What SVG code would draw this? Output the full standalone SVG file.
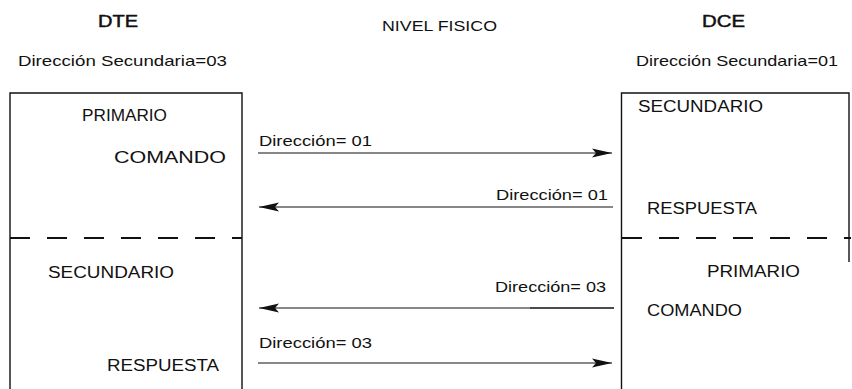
<svg xmlns="http://www.w3.org/2000/svg" width="852" height="389" viewBox="0 0 852 389">
  <style>
    text { font-family: "Liberation Sans", Arial, sans-serif; font-size: 16px; fill: #111; }
    .head { font-size: 16px; stroke: #111; stroke-width: 0.45; }
    .small { font-size: 15px; }
    .edge { stroke: #111; stroke-width: 1.4; fill: none; }
    .split { stroke: #111; stroke-width: 2; stroke-dasharray: 20 17; fill: none; }
    .msg { stroke: #111; stroke-width: 1.2; fill: none; }
  </style>
  <defs>
    <marker id="head" markerUnits="userSpaceOnUse" markerWidth="22" markerHeight="12" refX="20" refY="5" orient="auto">
      <path d="M0,0.5 L20,5 L0,9.5 L4,5 Z" fill="#111"/>
    </marker>
  </defs>
  <rect width="852" height="389" fill="#fff"/>

  <!-- column titles -->
  <g id="titles">
    <text class="head" x="98" y="27" textLength="40" lengthAdjust="spacingAndGlyphs">DTE</text>
    <text class="small" x="382" y="31" textLength="115" lengthAdjust="spacingAndGlyphs">NIVEL FISICO</text>
    <text class="head" x="702" y="27" textLength="43" lengthAdjust="spacingAndGlyphs">DCE</text>
    <text class="small" x="18" y="66" textLength="209" lengthAdjust="spacingAndGlyphs">Dirección Secundaria=03</text>
    <text class="small" x="636" y="66" textLength="202" lengthAdjust="spacingAndGlyphs">Dirección Secundaria=01</text>
  </g>

  <!-- DTE station -->
  <g id="dte">
    <path class="edge" d="M10,389 V93 H242 V389"/>
    <path class="split" d="M10,238 H242"/>
    <text x="82" y="121" textLength="85" lengthAdjust="spacingAndGlyphs">PRIMARIO</text>
    <text x="114" y="163" textLength="112" lengthAdjust="spacingAndGlyphs">COMANDO</text>
    <text x="48" y="278" textLength="126" lengthAdjust="spacingAndGlyphs">SECUNDARIO</text>
    <text x="107" y="371" textLength="112" lengthAdjust="spacingAndGlyphs">RESPUESTA</text>
  </g>

  <!-- DCE station -->
  <g id="dce">
    <path class="edge" d="M621.5,389 V93 H849 V262"/>
    <path class="split" d="M622,238 H851"/>
    <text x="638" y="112" textLength="125" lengthAdjust="spacingAndGlyphs">SECUNDARIO</text>
    <text x="647" y="214" textLength="110" lengthAdjust="spacingAndGlyphs">RESPUESTA</text>
    <text x="707" y="277" textLength="93" lengthAdjust="spacingAndGlyphs">PRIMARIO</text>
    <text x="647" y="316" textLength="95" lengthAdjust="spacingAndGlyphs">COMANDO</text>
  </g>

  <!-- frames exchanged on the physical level -->
  <g id="connectors">
    <path class="msg" d="M258,153 H612" marker-end="url(#head)"/>
    <text class="small" x="259" y="146" textLength="113" lengthAdjust="spacingAndGlyphs">Dirección= 01</text>

    <path class="msg" d="M613,207 H259" marker-end="url(#head)"/>
    <text class="small" x="496" y="200" textLength="112" lengthAdjust="spacingAndGlyphs">Dirección= 01</text>

    <path class="msg" d="M614,308 H259" marker-end="url(#head)"/>
    <path class="msg" d="M530,308 H614" stroke-width="1.8"/>
    <text class="small" x="495" y="292" textLength="111" lengthAdjust="spacingAndGlyphs">Dirección= 03</text>

    <path class="msg" d="M258,363 H612" marker-end="url(#head)"/>
    <text class="small" x="259" y="348" textLength="113" lengthAdjust="spacingAndGlyphs">Dirección= 03</text>
  </g>
</svg>
